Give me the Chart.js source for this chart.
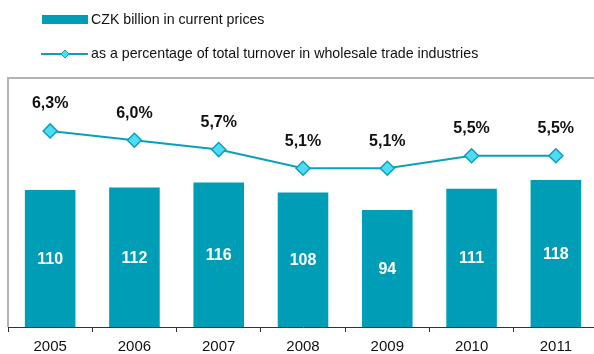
<!DOCTYPE html>
<html>
<head>
<meta charset="utf-8">
<script src="https://cdn.jsdelivr.net/npm/chart.js@4.4.0/dist/chart.umd.min.js"></script>
<style>
  html, body { margin: 0; padding: 0; background: #fff; overflow: hidden; }
  #wrap { position: relative; width: 594px; height: 354px; overflow: hidden; }
  #c { display: block; }
</style>
</head>
<body>
<div id="wrap"><canvas id="c" width="598" height="354"></canvas></div>
<script>
// Wholesale trade: value in CZK billion and share of total turnover
const years = ['2005', '2006', '2007', '2008', '2009', '2010', '2011'];
const czkBillion = [110, 112, 116, 108, 94, 111, 118];
const sharePct = [6.3, 6.0, 5.7, 5.1, 5.1, 5.5, 5.5];
const legendLabels = ['CZK billion in current prices',
  'as a percentage of total turnover in wholesale trade industries'];

const BAR = '#009db6';
const LINE = '#0ba0b8';
const MARK = '#4ddcf6';
const FONT = '"Liberation Sans", Arial, sans-serif';

// Grey frame above and left of the plot area
const framePlugin = {
  id: 'frame',
  beforeDraw(chart) {
    const { ctx, chartArea: a } = chart;
    ctx.save();
    ctx.strokeStyle = '#b3b3b3';
    ctx.lineWidth = 2;
    ctx.beginPath();
    ctx.moveTo(a.left, a.top);
    ctx.lineTo(chart.width, a.top);
    ctx.moveTo(a.left, a.top - 1);
    ctx.lineTo(a.left, a.bottom);
    ctx.stroke();
    ctx.restore();
  }
};

// Legend in the top-left corner
const legendPlugin = {
  id: 'topLegend',
  afterDraw(chart) {
    const { ctx } = chart;
    ctx.save();
    ctx.fillStyle = BAR;
    ctx.fillRect(42, 15, 46, 9);
    ctx.strokeStyle = LINE;
    ctx.lineWidth = 2;
    ctx.beginPath();
    ctx.moveTo(41, 54);
    ctx.lineTo(88, 54);
    ctx.stroke();
    ctx.beginPath();
    ctx.moveTo(61, 54); ctx.lineTo(65, 50); ctx.lineTo(69, 54); ctx.lineTo(65, 58);
    ctx.closePath();
    ctx.fillStyle = MARK;
    ctx.fill();
    ctx.lineWidth = 1;
    ctx.stroke();
    ctx.fillStyle = '#111';
    ctx.font = '14.2px ' + FONT;
    ctx.textBaseline = 'middle';
    ctx.textAlign = 'left';
    ctx.fillText(legendLabels[0], 91, 20);
    ctx.fillText(legendLabels[1], 91, 54);
    ctx.restore();
  }
};

// Value labels: inside the bars and above the line markers
const valueLabels = {
  id: 'valueLabels',
  afterDatasetsDraw(chart) {
    const { ctx } = chart;
    ctx.save();
    ctx.textAlign = 'center';
    ctx.textBaseline = 'middle';
    const barMeta = chart.getDatasetMeta(1);
    ctx.font = 'bold 16px ' + FONT;
    ctx.fillStyle = '#fff';
    barMeta.data.forEach((el, i) => {
      ctx.fillText(String(czkBillion[i]), el.x, (el.y + el.base) / 2 + 1);
    });
    const lineMeta = chart.getDatasetMeta(0);
    ctx.fillStyle = '#111';
    lineMeta.data.forEach((el, i) => {
      ctx.fillText(sharePct[i].toFixed(1).replace('.', ',') + '%', el.x, el.y - 27);
    });
    ctx.restore();
  }
};

new Chart(document.getElementById('c'), {
  data: {
    labels: years,
    datasets: [
      {
        type: 'line',
        label: legendLabels[1],
        data: sharePct,
        yAxisID: 'yPct',
        order: 0,
        borderColor: LINE,
        borderWidth: 2,
        pointStyle: 'rectRot',
        pointRadius: 7,
        pointBackgroundColor: MARK,
        pointBorderColor: LINE,
        pointBorderWidth: 1.5,
        tension: 0
      },
      {
        type: 'bar',
        label: legendLabels[0],
        data: czkBillion,
        yAxisID: 'yVal',
        order: 1,
        backgroundColor: BAR,
        borderWidth: 0,
        categoryPercentage: 1,
        barPercentage: 0.6
      }
    ]
  },
  options: {
    responsive: false,
    animation: false,
    layout: { autoPadding: false, padding: { top: 78, left: 8, right: 0, bottom: 0 } },
    plugins: { legend: { display: false }, tooltip: { enabled: false } },
    scales: {
      x: {
        offset: true,
        grid: { display: true, offset: true, drawOnChartArea: false, drawTicks: true,
                tickLength: 5, color: '#333', lineWidth: 1 },
        border: { display: true, color: '#333', width: 1 },
        ticks: { color: '#111', font: { family: FONT, size: 15 }, padding: 6, maxRotation: 0 },
        afterFit(scale) { scale.height = 27; }
      },
      yVal: { display: false, min: 0, max: 200 },
      yPct: { display: false, min: 0, max: 8, position: 'right' }
    }
  },
  plugins: [framePlugin, legendPlugin, valueLabels]
});
</script>
</body>
</html>
